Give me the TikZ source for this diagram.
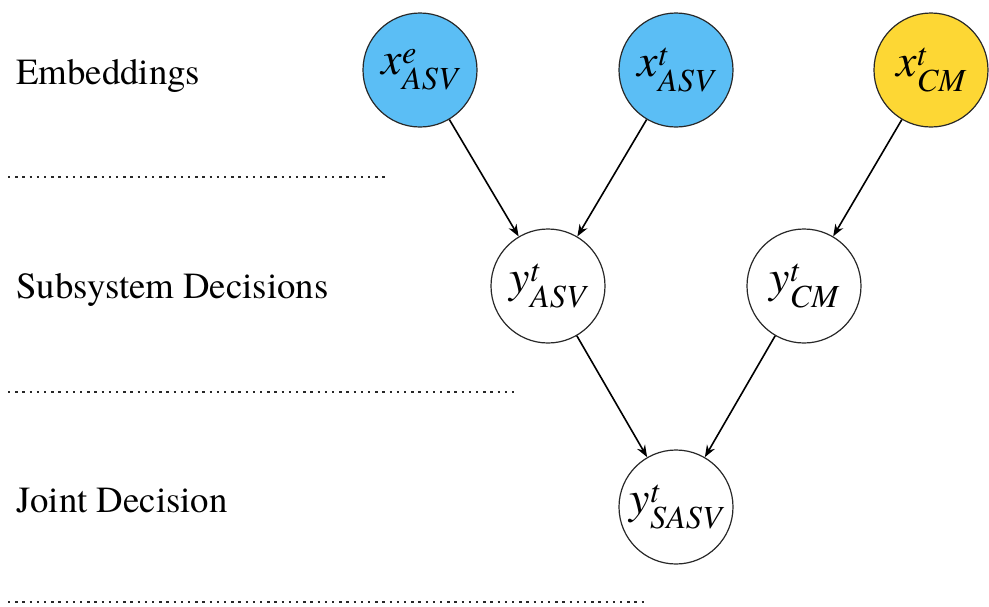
\documentclass[tikz,border=0pt]{standalone}
\usepackage{fontspec}
\usepackage{amsmath}
\newfontfamily\fa{texgyretermes}[Extension=.otf, UprightFont=*-regular, ItalicFont=*-italic, BoldFont=*-bold, BoldItalicFont=*-bolditalic]
\usetikzlibrary{arrows.meta}
\newcommand{\mi}[1]{\text{\fa\itshape #1}}
\definecolor{embblue}{RGB}{91,190,245}
\definecolor{embyellow}{RGB}{253,215,52}
\definecolor{edgegray}{RGB}{40,40,40}
\tikzset{
  var/.style={circle, draw=edgegray, line width=1.2pt, minimum size=114pt, inner sep=0pt,
    font=\fa\fontsize{46}{54}\selectfont},
  blue var/.style={var, fill=embblue},
  yellow var/.style={var, fill=embyellow},
  white var/.style={var, fill=white},
  rowlabel/.style={anchor=base west, inner sep=0pt, font=\fa\fontsize{36.8}{44}\selectfont},
  sep/.style={line width=2.4pt, dash pattern=on 2.4pt off 4.8pt, draw=edgegray},
  flow/.style={line width=1.6pt, -{Stealth[length=12pt,width=9pt]}, shorten >=0pt}
}
\begin{document}
\begin{tikzpicture}[x=1pt,y=-1pt]
\useasboundingbox (0,0) rectangle (989,606);
% row labels
\node[rowlabel] (lemb) at (16,84) {Embeddings};
\node[rowlabel] (lsub) at (16,298) {Subsystem Decisions};
\node[rowlabel] (ljoint) at (16,512) {Joint Decision};
% separators
\coordinate (s1a) at (8,177); \coordinate (s1b) at (386,177);
\coordinate (s2a) at (8,392); \coordinate (s2b) at (514,392);
\coordinate (s3a) at (8,602); \coordinate (s3b) at (646,602);
\draw[sep] (s1a) -- (s1b);
\draw[sep] (s2a) -- (s2b);
\draw[sep] (s3a) -- (s3b);
% nodes
\node[blue var] (xe) at (420,70) {$\mi{x}^{\mi{e}}_{\mi{ASV}}$};
\node[blue var] (xt) at (676,70) {$\mi{x}^{\mi{t}}_{\mi{ASV}}$};
\node[yellow var] (xc) at (931,70) {$\mi{x}^{\mi{t}}_{\mi{CM}}$};
\node[white var] (ya) at (548,286) {$\mi{y}^{\mi{t}}_{\mi{ASV}}$};
\node[white var] (yc) at (804,286) {$\mi{y}^{\mi{t}}_{\mi{CM}}$};
\node[white var] (ys) at (676,507) {$\mi{y}^{\mi{t}}_{\mi{SASV}}$};
% connectors
\draw[flow] (xe) -- (ya);
\draw[flow] (xt) -- (ya);
\draw[flow] (xc) -- (yc);
\draw[flow] (ya) -- (ys);
\draw[flow] (yc) -- (ys);
\end{tikzpicture}
\end{document}
